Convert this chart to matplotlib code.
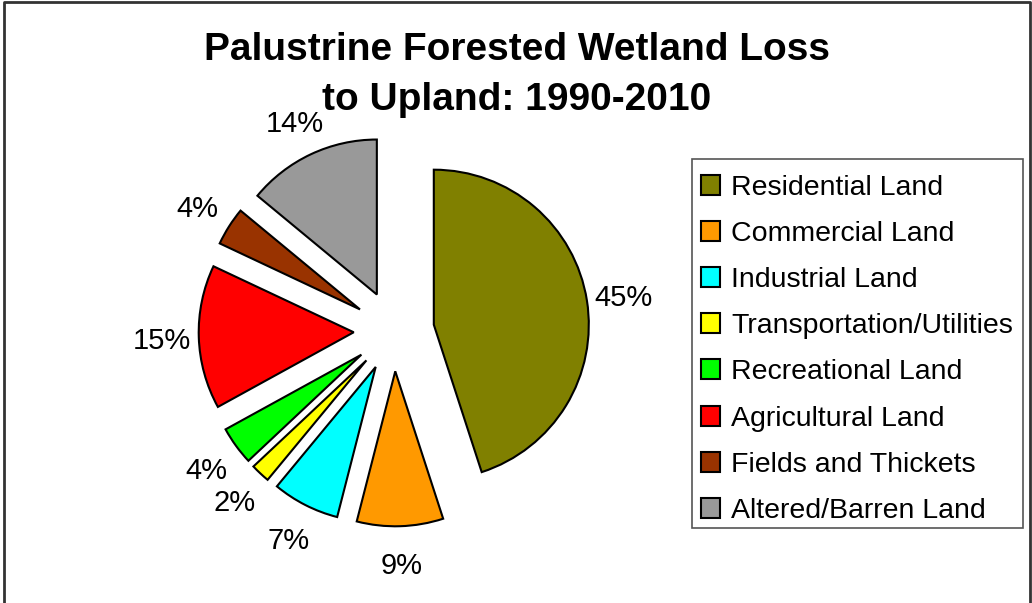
import matplotlib
matplotlib.use("Agg")
import matplotlib.pyplot as plt
from matplotlib.lines import Line2D
from matplotlib.patches import Rectangle

categories = ["Residential Land", "Commercial Land", "Industrial Land",
              "Transportation/Utilities", "Recreational Land", "Agricultural Land",
              "Fields and Thickets", "Altered/Barren Land"]
values = [45, 9, 7, 2, 4, 15, 4, 14]
colors = ["#808000", "#FF9900", "#00FFFF", "#FFFF00", "#00FF00", "#FF0000",
          "#993300", "#999999"]
title = "Palustrine Forested Wetland Loss\nto Upland: 1990-2010"

plt.rcParams['font.family'] = ['Liberation Sans', 'DejaVu Sans']

W, H = 1032, 603
fig = plt.figure(figsize=(W / 100, H / 100), dpi=100)

# pie axes: centre (394, 331) px, radius ~155 px
R = 155
cx, cy = 394, 331
half = 1.6 * R
ax = fig.add_axes([(cx - half) / W, (H - cy - half) / H, 2 * half / W, 2 * half / H])

explode = [0.26] * len(values)
wedges, texts, autotexts = ax.pie(
    values, colors=colors, startangle=90, counterclock=False,
    explode=explode, radius=1.0, autopct=lambda p: f"{p:.0f}%",
    pctdistance=1.24,
    wedgeprops=dict(edgecolor='black', linewidth=1.5),
    textprops=dict(fontsize=21, color='black'))
for t in autotexts:
    t.set_va('center_baseline')
ax.set_xlim(-1.6, 1.6)
ax.set_ylim(-1.6, 1.6)
ax.set_aspect('equal')
ax.axis('off')

fig.text(0.501, 1 - 75 / H, title, ha='center', va='center', fontsize=28,
         fontweight='bold', linespacing=1.5)

# legend frame
fig.add_artist(Rectangle((692 / W, 1 - 528 / H), 331 / W, 369 / H,
                         transform=fig.transFigure, facecolor='white',
                         edgecolor='#555555', linewidth=1.2))
leg = fig.legend(wedges, categories, loc='upper left',
                 bbox_to_anchor=(692 / W, 1 - 166 / H),
                 fontsize=20.5, frameon=False,
                 handlelength=0.7, handleheight=0.7, handletextpad=0.38,
                 labelspacing=0.71, borderpad=0.3, borderaxespad=0.0)
for h in leg.legend_handles:
    h.set_edgecolor('black')
    h.set_linewidth(1.5)

# outer border (left, top, right)
bx = [4 / W, 4 / W, 1030 / W, 1030 / W]
by = [0, 1 - 2 / H, 1 - 2 / H, 0]
fig.add_artist(Line2D(bx, by, transform=fig.transFigure, color='#333333', linewidth=2))

fig.savefig("out.png", dpi=100)
